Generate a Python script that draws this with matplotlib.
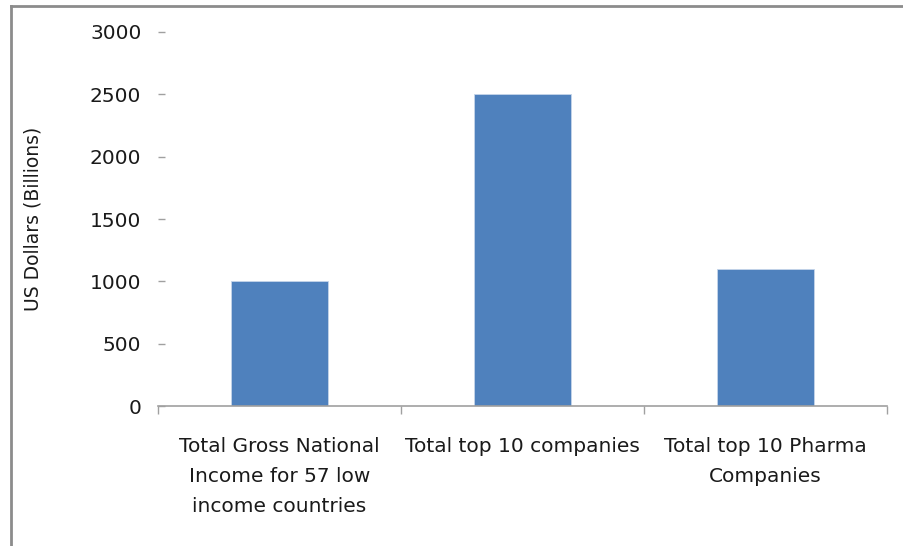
import matplotlib.pyplot as plt
from matplotlib.lines import Line2D

plt.rcParams['font.family'] = ['DejaVu Sans']

categories = ["Total Gross National\nIncome for 57 low\nincome countries",
              "Total top 10 companies",
              "Total top 10 Pharma\nCompanies"]
values = [1000, 2500, 1100]
y_ticks = [0, 500, 1000, 1500, 2000, 2500, 3000]

fig = plt.figure(figsize=(9.04, 5.46), dpi=100)
ax = fig.add_axes([0.1748, 0.2564, 0.9812 - 0.1748, 0.9414 - 0.2564])

x = range(len(values))
ax.bar(x, values, width=0.4, color='#4F81BD', edgecolor='#C6D5EA', linewidth=0.6)

ax.set_xlim(-0.5, len(values) - 0.5)
ax.set_ylim(0, 3000)
ax.set_yticks(y_ticks)
ax.set_yticklabels([str(v) for v in y_ticks], fontsize=14.5, color='#1a1a1a')
ax.tick_params(axis='y', direction='in', length=5, width=1, color='#A0A0A0', pad=12)

ax.set_xticks(list(x))
ax.set_xticklabels(categories, fontsize=14.5, color='#1a1a1a', linespacing=1.75)
ax.tick_params(axis='x', which='major', length=0, pad=22)
ax.set_xticks([i - 0.5 for i in range(len(values) + 1)], minor=True)
ax.tick_params(axis='x', which='minor', direction='out', length=6, width=1, color='#A0A0A0')

for s in ['top', 'right', 'left']:
    ax.spines[s].set_visible(False)
ax.spines['bottom'].set_color('#A0A0A0')
ax.spines['bottom'].set_linewidth(1.2)

ax.set_ylabel("US Dollars (Billions)", fontsize=13.5, color='#1a1a1a')
ax.yaxis.set_label_coords(-0.158, 0.5)

# outer chart frame (cut off on right and bottom)
fig.add_artist(Line2D([11 / 904, 11 / 904], [0, 1 - 6 / 546], transform=fig.transFigure,
                      color='#8C8C8C', linewidth=2))
fig.add_artist(Line2D([11 / 904, 1], [1 - 6 / 546, 1 - 6 / 546], transform=fig.transFigure,
                      color='#8C8C8C', linewidth=2))

fig.savefig("out.png", dpi=100)
